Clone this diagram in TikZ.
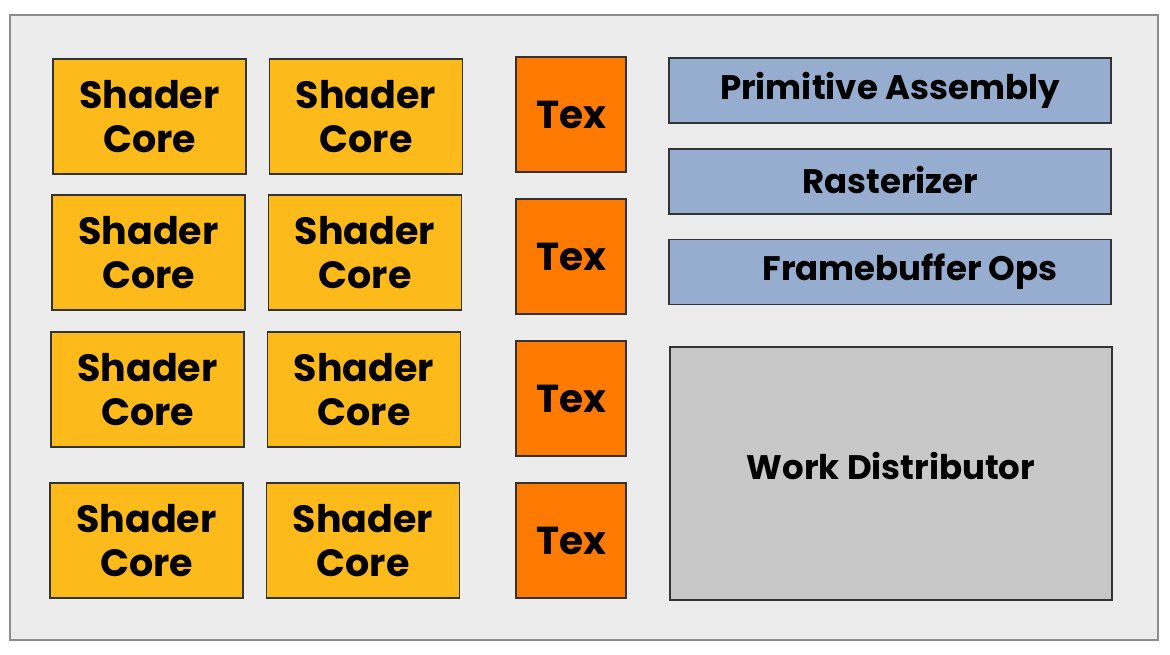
\documentclass[tikz,border=0pt]{standalone}
\usepackage{fontspec}
\setmainfont{Poppins}[BoldFont={* Bold}]
\usetikzlibrary{shadows}
\definecolor{coreyellow}{RGB}{253,186,27}
\definecolor{texorange}{RGB}{255,122,0}
\definecolor{fixedblue}{RGB}{151,173,207}
\definecolor{distgray}{RGB}{200,200,200}
\definecolor{diebg}{RGB}{236,236,236}
\begin{document}
\begin{tikzpicture}[
    x=1pt, y=-1pt,
    unit/.style={draw=black!80, line width=1.1pt, align=center, inner sep=0pt,
        font=\bfseries, drop shadow={shadow xshift=0.8pt, shadow yshift=-0.8pt, opacity=0.18}},
    core/.style={unit, fill=coreyellow, minimum width=193pt, minimum height=115pt,
        font=\fontsize{38}{44}\bfseries},
    tex/.style={unit, fill=texorange, minimum width=110pt, minimum height=115pt,
        font=\fontsize{39}{44}\bfseries},
    fixed/.style={unit, fill=fixedblue, minimum width=442pt, minimum height=65pt,
        font=\fontsize{34}{38}\bfseries},
    dist/.style={unit, fill=distgray, minimum width=442pt, minimum height=253pt,
        font=\fontsize{34}{38}\bfseries}]

\useasboundingbox (0,0) rectangle (1170,654);
% chip outline
\draw[fill=diebg, draw=black!45, line width=1.2pt] (10,15) rectangle (1158,640);

% shader cores, two columns of four
\foreach \i/\y in {0/116.5, 1/252.5, 2/389.5, 3/540.5} {
    \node[core] (core-\i-a) at (149.5-\i, \y) {Shader\\Core};
    \node[core] (core-\i-b) at (366-\i, \y) {Shader\\Core};
}

% texture units
\foreach \i/\y in {0/114.5, 1/256.5, 2/398.5, 3/540.5} {
    \node[tex] (tex-\i) at (571, \y) {Tex};
}

% fixed function blocks
\node[fixed] (prim) at (890, 90.5) {\raisebox{3pt}{Primitive Assembly}};
\node[fixed] (rast) at (890, 181.5) {\raisebox{4pt}{Rasterizer}};
\node[fixed] (fbops) at (890, 272) {\hspace*{40pt}Framebuffer Ops};
\node[dist] (work) at (891, 473.5) {\raisebox{16pt}{Work Distributor}};
\end{tikzpicture}
\end{document}
